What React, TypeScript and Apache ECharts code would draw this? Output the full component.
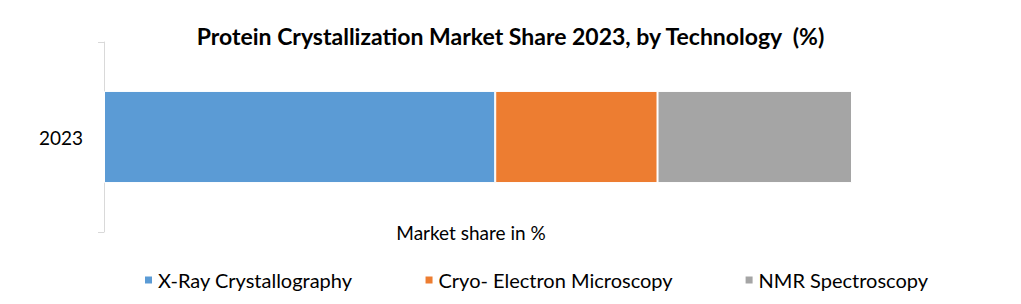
import React, { useEffect, useRef } from "react";
import * as echarts from "echarts";

const categories = ["2023"];
const seriesNames = ["X-Ray Crystallography", "Cryo- Electron Microscopy", "NMR Spectroscopy"];
const xRay = [52.3];
const cryoEm = [21.7];
const nmr = [26.0];
const colors = ["#5B9BD5", "#ED7D31", "#A5A5A5"];
const titleText = "Protein Crystallization Market Share 2023, by Technology  (%)";
const axisTitle = "Market share in %";

export default function App() {
  const ref = useRef<HTMLDivElement>(null);
  useEffect(() => {
    document.body.style.margin = "0";
    const chart = echarts.init(ref.current!, null, { renderer: "svg" });
    const font = "Lato, 'Open Sans', sans-serif";
    const values = [xRay, cryoEm, nmr];
    chart.setOption({
      animation: false,
      textStyle: { fontFamily: font },
      title: {
        text: titleText,
        left: "center",
        top: 19,
        textStyle: { fontSize: 23, fontWeight: "bold", color: "#000", fontFamily: font },
      },
      legend: {
        left: 143,
        top: 270,
        padding: 0,
        icon: "rect",
        itemWidth: 9,
        itemHeight: 9,
        itemGap: 71,
        textStyle: { fontSize: 20, color: "#000", fontFamily: font },
        data: seriesNames,
      },
      grid: { left: 104, right: 169, top: 42, bottom: 72, containLabel: false },
      xAxis: {
        type: "value",
        min: 0,
        max: 100,
        axisLine: { show: false },
        axisTick: { show: false },
        axisLabel: { show: false },
        splitLine: { show: false },
      },
      yAxis: {
        type: "category",
        data: categories,
        axisLine: { show: true, lineStyle: { color: "#D9D9D9", width: 1 } },
        axisTick: { show: true, length: 6, lineStyle: { color: "#D9D9D9" } },
        axisLabel: { fontSize: 19, color: "#000", margin: 21, fontFamily: font },
      },
      graphic: [
        {
          type: "text",
          x: 471,
          y: 232,
          style: {
            text: axisTitle,
            fontSize: 19,
            fill: "#000",
            fontFamily: font,
            textAlign: "center",
            textVerticalAlign: "middle",
          },
        },
      ],
      series: seriesNames.map((name, i) => ({
        name,
        type: "bar",
        stack: "total",
        barWidth: "48.5%",
        data: values[i],
        itemStyle: { color: colors[i], borderColor: "#fff", borderWidth: 1 },
      })),
    });
    return () => chart.dispose();
  }, []);
  return <div ref={ref} style={{ width: 1021, height: 304 }} />;
}
